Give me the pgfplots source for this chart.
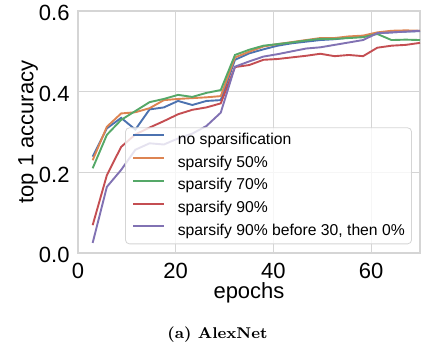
\documentclass[border=0pt]{standalone}
\usepackage{fontspec}
\usepackage{pgfplots}
\pgfplotsset{compat=1.18}
\usepackage{pgfplotstable}
\usetikzlibrary{calc}
\newfontfamily\sansf{Liberation Sans}
\definecolor{sbblue}{HTML}{4C72B0}
\definecolor{sborange}{HTML}{DD8452}
\definecolor{sbgreen}{HTML}{55A868}
\definecolor{sbred}{HTML}{C44E52}
\definecolor{sbpurple}{HTML}{8172B3}
\definecolor{gridc}{HTML}{D5D5D5}

\pgfplotstableread{
x blue orange green red purple
3.00 0.239 0.230 0.210 0.069 0.025
5.91 0.309 0.313 0.293 0.193 0.164
8.83 0.335 0.346 0.330 0.263 0.206
11.74 0.306 0.349 0.352 0.294 0.256
14.65 0.356 0.359 0.374 0.311 0.272
17.57 0.361 0.379 0.382 0.327 0.269
20.48 0.377 0.382 0.392 0.344 0.284
23.39 0.367 0.384 0.387 0.355 0.296
26.30 0.377 0.386 0.397 0.361 0.315
29.22 0.379 0.389 0.404 0.371 0.348
32.13 0.479 0.485 0.491 0.461 0.462
35.04 0.495 0.499 0.504 0.466 0.475
37.96 0.505 0.512 0.514 0.479 0.487
40.87 0.514 0.518 0.518 0.481 0.493
43.78 0.520 0.523 0.522 0.485 0.500
46.70 0.524 0.528 0.527 0.489 0.507
49.61 0.528 0.533 0.531 0.494 0.510
52.52 0.530 0.533 0.531 0.488 0.516
55.43 0.534 0.537 0.533 0.491 0.522
58.35 0.537 0.539 0.535 0.488 0.528
61.26 0.545 0.547 0.543 0.509 0.545
64.17 0.547 0.551 0.528 0.514 0.547
67.09 0.549 0.552 0.529 0.516 0.549
70.00 0.550 0.551 0.528 0.521 0.551
}\datatable

\begin{document}
\begin{tikzpicture}
\begin{axis}[name=ax, scale only axis, width=171pt, height=121pt,
  xmin=0, xmax=70, ymin=0, ymax=0.6,
  xtick={0,20,40,60}, ytick={0,0.2,0.4,0.6},
  grid=major, major grid style={gridc, line width=0.55pt},
  axis line style={gridc, line width=0.7pt},
  tick style={draw=none},
  tick label style={font=\fontsize{11}{13}\sansf},
  /pgf/number format/assume math mode=true,
  yticklabel style={/pgf/number format/fixed, /pgf/number format/fixed zerofill, /pgf/number format/precision=1,
    anchor=east, xshift=-0.7pt, yshift=-1.2pt},
  xticklabel style={anchor=base, yshift=-12.5pt},
  label style={font=\fontsize{11}{13}\sansf},
  xlabel={epochs}, ylabel={top 1 accuracy},
  xlabel style={at={(axis description cs:0.5,-0.186)}, anchor=base},
  ylabel style={at={(axis description cs:-0.1307,0.5)}, anchor=base},
  legend style={at={(0.9766,0.036)}, anchor=south east,
    font=\fontsize{7.85}{9}\sansf, draw=gridc, rounded corners=2pt,
    fill=white, fill opacity=0.8, text opacity=1, draw opacity=1,
    inner xsep=3.4pt, inner ysep=2.55pt, row sep=4.05pt, column sep=6.3pt,
    nodes={inner sep=0pt, text height=5.7pt, text depth=1.65pt},
    cells={anchor=west}},
  legend image code/.code={\draw[#1, line width=1pt, draw opacity=1] (0pt,2.5pt) -- (15.5pt,2.5pt);},
]
\addplot[draw=sbblue, line width=0.95pt, mark=none] table[x=x, y=blue] {\datatable};
\addlegendentry{no sparsification}
\addplot[draw=sborange, line width=0.95pt, mark=none] table[x=x, y=orange] {\datatable};
\addlegendentry{sparsify 50\%}
\addplot[draw=sbgreen, line width=0.95pt, mark=none] table[x=x, y=green] {\datatable};
\addlegendentry{sparsify 70\%}
\addplot[draw=sbred, line width=0.95pt, mark=none] table[x=x, y=red] {\datatable};
\addlegendentry{sparsify 90\%}
\addplot[draw=sbpurple, line width=0.95pt, mark=none] table[x=x, y=purple] {\datatable};
\addlegendentry{sparsify 90\% before 30, then 0\%}
\end{axis}
\node[font=\fontsize{7.8}{9.4}\selectfont\bfseries, anchor=base] at ($(ax.south west)+(69.75pt,-42.65pt)$) {(a) AlexNet};
\pgfresetboundingbox
\path ($(ax.south west)+(-39pt,-47pt)$) rectangle ($(ax.north east)+(0.5pt,5.5pt)$);
\end{tikzpicture}
\end{document}
